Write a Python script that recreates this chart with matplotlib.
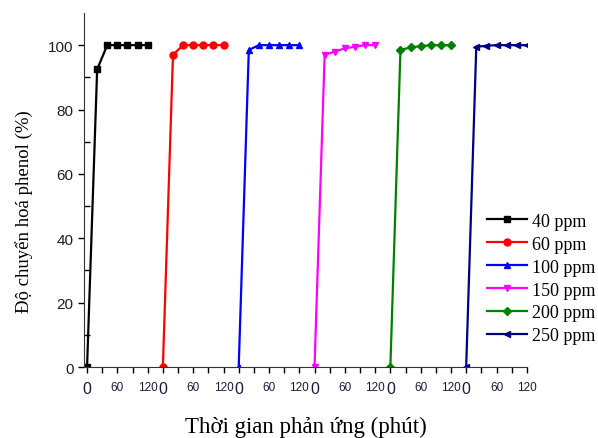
import matplotlib
matplotlib.use('Agg')
import matplotlib.pyplot as plt

# reaction time (min) and phenol conversion (%) for each initial concentration
t = [0, 20, 40, 60, 80, 100, 120]
labels = ['40 ppm', '60 ppm', '100 ppm', '150 ppm', '200 ppm', '250 ppm']
conv_40 = [0, 92.5, 100, 100, 100, 100, 100]
conv_60 = [0, 97, 100, 100, 100, 100, 100]
conv_100 = [0, 98.5, 100, 100, 100, 100, 100]
conv_150 = [0, 97, 98, 99, 99.5, 100, 100]
conv_200 = [0, 98.5, 99.3, 99.7, 100, 100, 100]
conv_250 = [0, 99.5, 99.8, 100, 100, 100, 100]
series = [conv_40, conv_60, conv_100, conv_150, conv_200, conv_250]

colors = ['black', 'red', 'blue', 'magenta', 'green', 'navy']
markers = ['s', 'o', '^', 'v', 'D', '<']
panel_width = 150

fig = plt.figure(figsize=(5.98, 4.39), dpi=100)
ax = fig.add_axes([0.1405, 0.1617, 0.7405, 0.8065])

for i, y in enumerate(series):
    x = [v + i * panel_width for v in t]
    ms = 4.5 if markers[i] == 'D' else 5
    ax.plot(x, y, color=colors[i], marker=markers[i], markersize=ms,
            linewidth=1.6, label=labels[i])

# x axis: six panels of 0..120 min placed side by side
ticks = []
ticklabels = []
for i in range(6):
    for v in [0, 30, 60, 90, 120]:
        ticks.append(v + i * panel_width)
        ticklabels.append(str(v) if v in (0, 60, 120) else '')
ax.set_xticks(ticks, ticklabels)
for lab in ax.get_xticklabels():
    lab.set_fontfamily('Liberation Sans')
    lab.set_color('#1b1b3a')
    lab.set_fontsize(11.5 if lab.get_text() == '0' else 8.5)
ax.set_xlim(-6, 870)
ax.set_ylim(0, 110)
ax.set_yticks([0, 20, 40, 60, 80, 100])
ax.set_yticks(range(10, 110, 20), minor=True)
for lab in ax.get_yticklabels():
    lab.set_fontfamily('Liberation Sans')
    lab.set_color('#1b1b3a')
    lab.set_fontsize(11)
ax.tick_params(axis='both', which='major', direction='out', length=4, width=1)
ax.tick_params(axis='x', which='major', pad=6)
ax.tick_params(axis='y', which='minor', direction='in', length=4, width=1)

for side in ['top', 'right']:
    ax.spines[side].set_visible(False)
for side in ['left', 'bottom']:
    ax.spines[side].set_color('#333333')

ax.set_xlabel('Thời gian phản ứng (phút)', fontfamily='Liberation Serif',
              fontsize=16.5)
ax.xaxis.set_label_coords(0.5, -0.138)
ax.set_ylabel('Độ chuyển hoá phenol (%)', fontfamily='Liberation Serif',
              fontsize=13.5)
ax.yaxis.set_label_coords(-0.115, 0.443)

ax.legend(loc='upper left', bbox_to_anchor=(0.91, 0.436), frameon=False,
          prop={'family': 'Liberation Serif', 'size': 13},
          handlelength=2.2, handletextpad=0.3, labelspacing=0.33,
          borderaxespad=0, borderpad=0)

fig.savefig('out.png', dpi=100)
